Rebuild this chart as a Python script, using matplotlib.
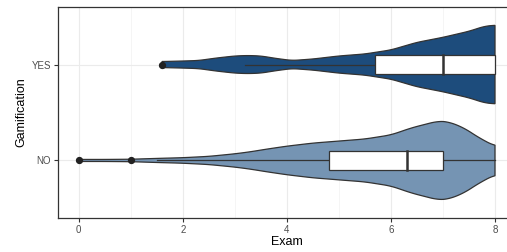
import numpy as np
import matplotlib
matplotlib.use("Agg")
import matplotlib.pyplot as plt

plt.rcParams['font.family'] = ['Liberation Sans', 'DejaVu Sans']

# ---- data ----
groups = ["NO", "YES"]
colors = ["#7594B3", "#1D4C7C"]

# violin outlines: exam grid and relative half-width (1 = widest)
yes_x = [1.6, 2.0, 2.3, 2.65, 3.0, 3.25, 3.5, 3.8, 4.1, 4.5, 5.0, 5.5, 6.0, 6.5, 7.0, 7.5, 7.8, 8.0]
yes_w = [3, 3.5, 4, 6.5, 8.5, 9, 8.5, 6, 4, 5.5, 8.5, 10.5, 14.5, 22, 27, 33, 38, 39]
no_x = [0.0, 0.5, 1.0, 1.5, 2.0, 2.5, 3.0, 3.3, 3.6, 4.0, 4.5, 5.0, 5.5, 6.0, 6.4, 6.9, 7.1, 7.4, 7.7, 8.0]
no_w = [1, 1, 1.2, 2, 2.7, 4, 6.5, 8.5, 11, 14, 17, 19, 21, 25, 32, 38.5, 38, 32, 22, 14]

# box stats: whisker low, q1, median, q3, whisker high
yes_box = [3.2, 5.7, 7.0, 8.0, 8.0]
no_box = [1.5, 4.8, 6.3, 7.0, 8.0]
yes_out = [1.6]
no_out = [0.0, 1.0]

xticks = [0, 2, 4, 6, 8]

# ---- plot ----
fig = plt.figure(figsize=(5.07, 2.52), dpi=100)
ax = fig.add_axes([58/507, 34/252, (515.8-58)/507, 211/252])

edge = "#333333"
maxhalf = 0.41
series = [(no_x, no_w, no_box, no_out), (yes_x, yes_w, yes_box, yes_out)]
for i, (vx, vw, bx, outl) in enumerate(series):
    pos = i + 1
    vx = np.array(vx); vw = np.array(vw, dtype=float)
    hw = vw / max(vw) * maxhalf
    fx = np.linspace(vx[0], vx[-1], 400)
    fw = np.interp(fx, vx, hw)
    k = np.ones(15) / 15
    pad = np.pad(fw, 7, mode="edge")
    fw = np.convolve(pad, k, mode="valid")
    px = np.concatenate([fx, fx[::-1]])
    py = np.concatenate([pos + fw, (pos - fw)[::-1]])
    ax.fill(px, py, facecolor=colors[i], edgecolor=edge, linewidth=0.9, zorder=3)
    lo, q1, med, q3, hi = bx
    bh = 0.1
    ax.plot([lo, q1], [pos, pos], color=edge, lw=0.9, zorder=4)
    ax.plot([q3, hi], [pos, pos], color=edge, lw=0.9, zorder=4)
    ax.add_patch(plt.Rectangle((q1, pos - bh), q3 - q1, 2 * bh, facecolor="white",
                               edgecolor=edge, lw=0.9, zorder=5))
    ax.plot([med, med], [pos - bh, pos + bh], color=edge, lw=1.8, zorder=6)
    ax.scatter(outl, [pos] * len(outl), s=18, color="#222222", zorder=7)

ax.set_xlim(-0.4, 8.4)
ax.set_ylim(0.4, 2.6)
ax.set_xticks(xticks)
ax.set_xticks([1, 3, 5, 7], minor=True)
ax.set_yticks([1, 2])
ax.set_yticklabels(groups)
ax.grid(True, which="major", color="#EBEBEB", lw=0.8, zorder=0)
ax.grid(True, which="minor", axis="x", color="#F2F2F2", lw=0.5, zorder=0)
ax.set_axisbelow(True)
ax.tick_params(axis="both", which="major", labelsize=7, labelcolor="#4D4D4D",
               color="#333333", length=3, width=0.8, pad=2)
ax.tick_params(which="minor", length=0)
for s in ax.spines.values():
    s.set_color("#333333")
    s.set_linewidth(0.9)
ax.spines["right"].set_visible(False)
ax.set_xlabel("Exam", fontsize=9, labelpad=1)
ax.set_ylabel("Gamification", fontsize=9, labelpad=3)

fig.savefig("out.png", dpi=100)
